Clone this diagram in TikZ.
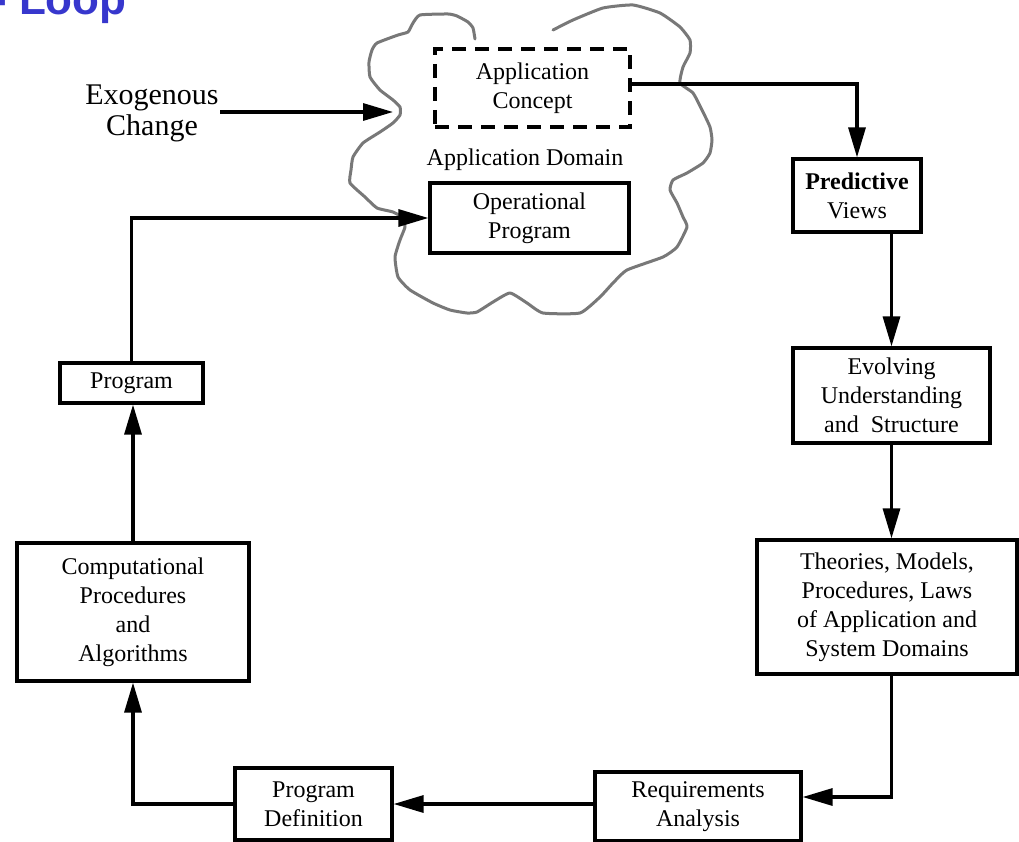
\documentclass[tikz,border=0pt]{standalone}
\usepackage{fontspec}
\setmainfont{Liberation Serif}
\newfontfamily\titlefont{Liberation Sans}
\usetikzlibrary{arrows.meta}
\definecolor{titleblue}{RGB}{55,55,205}
\definecolor{cloudgray}{RGB}{120,120,120}
\begin{document}
\begin{tikzpicture}[x=1pt,y=-1pt,
  txt/.style={font=\fontsize{24}{29}\selectfont, align=center, inner sep=0pt},
  box/.style={txt, draw, line width=3.2pt},
  dbox/.style={txt, draw, line width=3.2pt, dash pattern=on 14pt off 9pt},
  arr/.style={line width=3.2pt, -{Triangle[length=30pt,width=17pt]}},
  cloudline/.style={draw=cloudgray, line width=3pt, line join=round, line cap=round}]
\useasboundingbox (0,0) rectangle (1019,842);
\clip (0,0) rectangle (1019,842);
\fill[white] (0,0) rectangle (1019,842);

% title fragment
\node[anchor=base west, font=\titlefont\bfseries\fontsize{44}{44}\selectfont, text=titleblue, inner sep=0pt] (title) at (-8,15) {- Loop};

% cloud
\draw[cloudline] plot[smooth, tension=0.3] coordinates {
(475,39) (473,28) (468,22) (457,16) (448,14) (420,15) (413,23) (408,32) (398,35) (377,43) (372,50) (369,62) (370,77) (380,90) (393,100) (400,107) (400,115) (393,123) (380,132) (363,143) (353,157) (351,170) (350,183) (365,197) (377,208) (393,212) (403,218) (405,227) (400,240) (395,257) (398,277) (410,290) (433,303) (450,310) (467,313) (477,312) (493,302) (510,293) (527,303) (543,313) (580,313) (600,297) (613,283) (627,270) (663,257) (677,247) (687,227) (683,217) (677,203) (670,190) (673,180) (687,173) (703,163) (710,153) (712,140) (710,127) (702,110) (693,93) (680,83) (683,67) (690,53) (690,40) (680,27) (660,13) (633,5) (603,8) (573,20) (553,30)};

% nodes
\node[dbox, minimum width=195pt, minimum height=78pt] (ac) at (532.5,88) {Application\\Concept};
\node[txt] (ad) at (525,160) {Application Domain};
\node[box, minimum width=199pt, minimum height=70pt] (op) at (529.5,218) {Operational\\Program};
\node[box, minimum width=128pt, minimum height=73pt] (pv) at (857,195.5) {\textbf{Predictive}\\Views};
\node[box, minimum width=197pt, minimum height=95pt] (ev) at (891.5,395.5) {Evolving\\Understanding\\and~ Structure};
\node[box, minimum width=260pt, minimum height=134pt] (th) at (887,607) {Theories, Models,\\Procedures, Laws\\of Application and\\System Domains};
\node[box, minimum width=206pt, minimum height=69pt] (ra) at (698,806.5) {Requirements\\Analysis};
\node[box, minimum width=157pt, minimum height=72pt] (pd) at (313.5,804) {Program\\Definition};
\node[box, minimum width=232pt, minimum height=138pt] (cp) at (133,612) {Computational\\Procedures\\and\\Algorithms};
\node[box, minimum width=143pt, minimum height=40pt] (pg) at (131.5,383) {Program};
\node[font=\fontsize{30}{31}\selectfont, align=center, inner sep=0pt] (exo) at (152,113) {Exogenous\\Change};

\coordinate (exoout) at (220,112);
\coordinate (cloudin) at (393,112);

% connectors
\draw[arr] (exoout) -- (cloudin);
\draw[arr] ([yshift=4pt]ac.east) -| (pv.north);
\draw[arr] (ev.north |- pv.south) -- (ev.north);
\draw[arr] (ev.south) -- (ev.south |- th.north);
\draw[arr] (ev.south |- th.south) |- ([yshift=9.5pt]ra.east);
\draw[arr] (ra.west |- pd.east) -- (pd.east);
\draw[arr] (pd.west) -| (cp.south);
\draw[arr] (cp.north) -- (cp.north |- pg.south);
\draw[arr] (pg.north) |- (op.west);
\end{tikzpicture}
\end{document}
